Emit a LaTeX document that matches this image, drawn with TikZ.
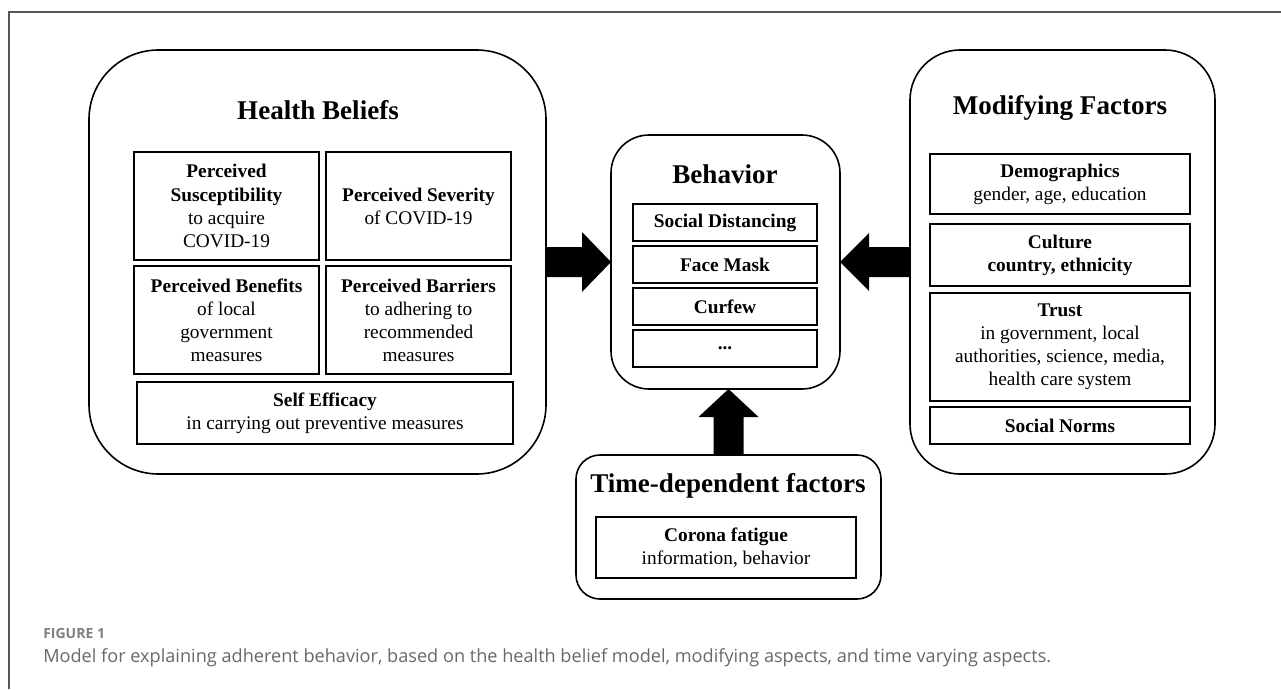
\documentclass[tikz,border=0pt]{standalone}
\usepackage{fontspec}
\setmainfont{Liberation Serif}
\newfontfamily\capfont{Open Sans}
\usetikzlibrary{positioning,calc}
\definecolor{capgray}{HTML}{686868}
\definecolor{framegray}{HTML}{555555}

\begin{document}
\begin{tikzpicture}[x=0.75pt, y=-0.75pt, node distance=4.5pt,
  every node/.style={font=\fontsize{14.5}{17.3}\selectfont},
  group/.style={draw, line width=1.2pt, outer sep=0pt, inner sep=0pt},
  cell/.style={draw, line width=1.1pt, outer sep=0pt, inner sep=0pt, align=center},
  title/.style={font=\fontsize{20.3}{24}\selectfont\bfseries},
  blockarrow/.style={fill=black}]
\useasboundingbox (0,0) rectangle (1281,689);
\draw[framegray, line width=0.9pt] (9,689) -- (9,12) -- (1281,12);

% groups
\node[group, rounded corners=52pt, minimum width=342.75pt, minimum height=318pt] (hb) at (317.5,262) {};
\node[group, rounded corners=28.5pt, minimum width=171.75pt, minimum height=190.5pt] (beh) at (725.5,262) {};
\node[group, rounded corners=37.5pt, minimum width=228.75pt, minimum height=318pt] (mf) at (1062.5,262) {};
\node[group, rounded corners=18pt, minimum width=228.75pt, minimum height=108pt] (td) at (728.5,527) {};

\node[title] (hbtitle) at (318,110) {Health Beliefs};
\node[title] (behtitle) at (725,174) {Behavior};
\node[title] (mftitle) at (1060,108) {Modifying Factors};
\node[title] (tdtitle) at (728,486) {Time-dependent factors};

% health beliefs
\node[cell, minimum width=138.75pt, minimum height=81pt] (sus) at (226.5,206) {\textbf{Perceived}\\\textbf{Susceptibility}\\to acquire\\COVID-19};
\node[cell, minimum width=138.75pt, minimum height=81pt, right=5.25pt of sus] (sev) {\textbf{Perceived Severity}\\of COVID-19};
\node[cell, minimum width=138.75pt, minimum height=81pt, below=of sus] (ben) {\textbf{Perceived Benefits}\\of local\\government\\measures};
\node[cell, minimum width=138.75pt, minimum height=81pt, below=of sev] (bar) {\textbf{Perceived Barriers}\\to adhering to\\recommended\\measures};
\node[cell, minimum width=282pt, minimum height=46.5pt] (eff) at (325,413) {\textbf{Self Efficacy}\\in carrying out preventive measures};

% behavior
\node[cell, minimum width=138pt, minimum height=27.75pt] (dist) at (725,222.5) {\textbf{Social Distancing}};
\node[cell, minimum width=138pt, minimum height=27.75pt, below=3.75pt of dist] (mask) {\textbf{Face Mask}};
\node[cell, minimum width=138pt, minimum height=27.75pt, below=3.75pt of mask] (curfew) {\textbf{Curfew}};
\node[cell, minimum width=138pt, minimum height=27.75pt, below=3.75pt of curfew] (more) {\textbf{...}};

% modifying factors
\node[cell, minimum width=195pt, minimum height=45pt] (demo) at (1060,184) {\textbf{Demographics}\\gender, age, education};
\node[cell, minimum width=195pt, minimum height=46.5pt] (cult) at (1060,255) {\textbf{Culture}\\\textbf{country, ethnicity}};
\node[cell, minimum width=195pt, minimum height=81pt] (trust) at (1060,347) {\textbf{Trust}\\in government, local\\authorities, science, media,\\health care system};
\node[cell, minimum width=195pt, minimum height=27.75pt] (norms) at (1060,425.5) {\textbf{Social Norms}};

% time-dependent factors
\node[cell, minimum width=195pt, minimum height=45.75pt] (fatigue) at (726,547.5) {\textbf{Corona fatigue}\\information, behavior};

% block arrows
\fill[blockarrow] ($(hb.east)+(0,-15)$) -- ++(36,0) -- ++(0,-15) -- (beh.west) -- ($(hb.east)+(36,30)$) -- ++(0,-15) -- ++(-36,0) -- cycle;
\fill[blockarrow] ($(mf.west)+(0,-15)$) -- ++(-41,0) -- ++(0,-14) -- (beh.east) -- ($(mf.west)+(-41,29)$) -- ++(0,-14) -- ++(41,0) -- cycle;
\fill[blockarrow] ($(td.north)+(-15,0)$) -- ++(0,-38) -- ++(-15,0) -- (td.north |- beh.south) -- ($(td.north)+(30,-38)$) -- ++(-15,0) -- ++(0,38) -- cycle;

% caption
\node[anchor=base west, inner sep=0pt, font=\capfont\fontsize{10.5}{12}\selectfont\bfseries, text=capgray!85] (fig) at (43,638) {FIGURE 1};
\node[anchor=base west, inner sep=0pt, font=\capfont\fontsize{13.6}{16}\selectfont, text=capgray] (caption) at (43,662) {Model for explaining adherent behavior, based on the health belief model, modifying aspects, and time varying aspects.};
\end{tikzpicture}
\end{document}
